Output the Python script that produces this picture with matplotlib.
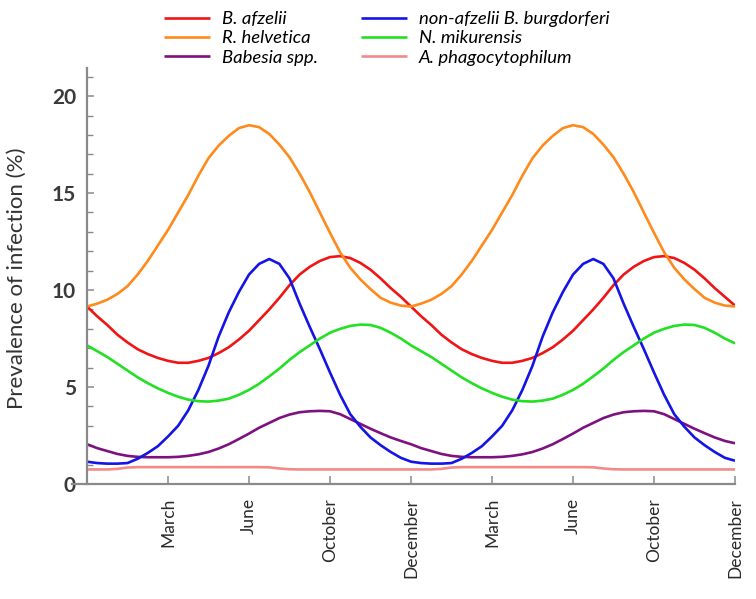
import numpy as np
import matplotlib
matplotlib.use("Agg")
import matplotlib.pyplot as plt

plt.rcParams['font.family'] = ['Lato', 'DejaVu Sans']

# sample positions (tick units: March=1 ... December=4, March=5 ... December=8)
t = np.arange(65) * 0.125

month_ticks = [1, 2, 3, 4, 5, 6, 7, 8]
month_labels = ["March", "June", "October", "December",
                "March", "June", "October", "December"]

# one seasonal cycle (%), step of 1/8 tick; both years look the same
b_afzelii = [9.15, 8.65, 8.2, 7.7, 7.3, 6.95, 6.7, 6.5, 6.35, 6.25, 6.25, 6.35, 6.5, 6.75, 7.05, 7.45,
             7.9, 8.45, 9.0, 9.6, 10.25, 10.8, 11.2, 11.5, 11.7, 11.75, 11.65, 11.4, 11.05, 10.6, 10.1, 9.65]
r_helvetica = [9.15, 9.3, 9.5, 9.8, 10.2, 10.8, 11.5, 12.3, 13.1, 14.0, 14.9, 15.9, 16.8, 17.45, 17.95, 18.35,
               18.5, 18.4, 18.05, 17.5, 16.85, 16.0, 15.05, 14.0, 12.95, 11.95, 11.15, 10.55, 10.05, 9.6, 9.35, 9.2]
babesia = [2.05, 1.85, 1.7, 1.55, 1.45, 1.4, 1.38, 1.38, 1.38, 1.4, 1.45, 1.53, 1.65, 1.83, 2.05, 2.32,
           2.6, 2.9, 3.15, 3.4, 3.58, 3.7, 3.75, 3.77, 3.75, 3.6, 3.35, 3.1, 2.85, 2.62, 2.4, 2.22]
non_afzelii = [1.15, 1.08, 1.05, 1.05, 1.08, 1.3, 1.6, 1.95, 2.45, 3.0, 3.8, 4.85, 6.1, 7.6, 8.85, 9.9,
               10.8, 11.35, 11.6, 11.35, 10.6, 9.3, 8.1, 6.95, 5.75, 4.6, 3.6, 2.95, 2.4, 2.0, 1.65, 1.35]
n_mikurensis = [7.15, 6.85, 6.55, 6.2, 5.85, 5.5, 5.2, 4.93, 4.7, 4.5, 4.35, 4.27, 4.25, 4.3, 4.4, 4.6,
                4.85, 5.17, 5.55, 5.95, 6.4, 6.8, 7.15, 7.5, 7.8, 8.0, 8.15, 8.22, 8.2, 8.05, 7.8, 7.5]
a_phago = [0.75, 0.75, 0.75, 0.78, 0.85, 0.87, 0.87, 0.87, 0.87, 0.87, 0.87, 0.87, 0.87, 0.87, 0.87, 0.87,
           0.87, 0.87, 0.86, 0.8, 0.76, 0.75, 0.75, 0.75, 0.75, 0.75, 0.75, 0.75, 0.75, 0.75, 0.75, 0.75]

# value at the last December tick
end_values = {"B. afzelii": 9.2, "R. helvetica": 9.15, "Babesia spp.": 2.1,
              "non-afzelii B. burgdorferi": 1.2, "N. mikurensis": 7.25, "A. phagocytophilum": 0.75}

series = [
    (b_afzelii, "B. afzelii", "#f01414"),
    (r_helvetica, "R. helvetica", "#ff8a1c"),
    (babesia, "Babesia spp.", "#7e1180"),
    (non_afzelii, "non-afzelii B. burgdorferi", "#1414e6"),
    (n_mikurensis, "N. mikurensis", "#22e022"),
    (a_phago, "A. phagocytophilum", "#f28a8a"),
]

fig = plt.figure(figsize=(7.56, 5.99), dpi=100)
ax = fig.add_axes([87 / 756, 115 / 599, 648 / 756, 416 / 599])

for cycle, name, col in series:
    vals = cycle + cycle + [end_values[name]]
    ax.plot(t, vals, color=col, lw=1.9, label=name, solid_capstyle="butt")

ax.set_xlim(0, 8)
ax.set_ylim(0, 21.45)

gray = "#8a8a8a"
for side in ["top", "right"]:
    ax.spines[side].set_visible(False)
for side in ["left", "bottom"]:
    ax.spines[side].set_color(gray)
    ax.spines[side].set_linewidth(1.6)
ax.spines["bottom"].set_bounds(-0.19, 8)

ax.set_yticks([0, 5, 10, 15, 20])
ax.set_yticks(range(0, 22), minor=True)
ax.tick_params(axis="y", which="major", direction="in", length=5, width=1.1, color=gray,
               labelsize=15, labelcolor="#3a3a3a", pad=8)
ax.tick_params(axis="y", which="minor", direction="in", length=4, width=1.0, color=gray)
for lab in ax.get_yticklabels():
    lab.set_fontweight("bold")

ax.set_xticks(month_ticks)
ax.set_xticklabels(month_labels, rotation=90)
ax.tick_params(axis="x", direction="in", length=6, width=1.1, color=gray,
               labelsize=12.5, labelcolor="#2a2a2a", pad=10)

fig.text(17 / 756, 0.535, "Prevalence of infection (%)", rotation=90,
         ha="center", va="center", fontsize=16, color="#333333")

fig.legend(loc="upper left", bbox_to_anchor=(153 / 756, 1.0), ncol=2, frameon=False,
           prop={"style": "italic", "size": 13.3}, handlelength=2.5, handletextpad=0.65,
           columnspacing=2.3, labelspacing=0.18, borderaxespad=0.2)

fig.savefig("out.png", dpi=100)
